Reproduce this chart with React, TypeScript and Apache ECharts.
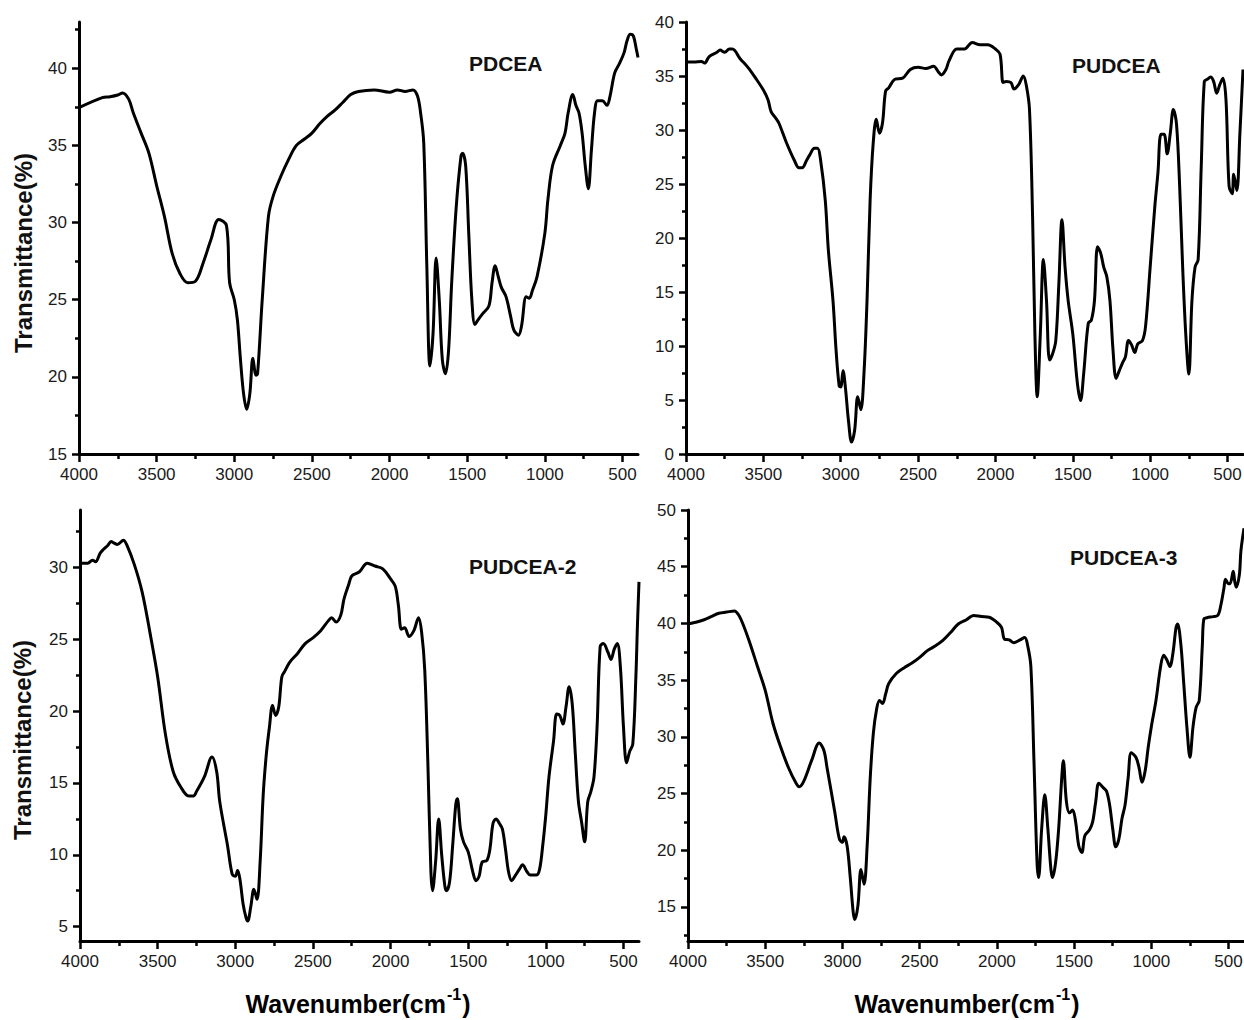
import React, { useEffect, useRef } from "react";
import * as echarts from "echarts";

// ---------- data (wavenumber cm-1, transmittance %) ----------
const pdceaWn = [4000,3850,3800,3750,3720,3680,3650,3600,3550,3500,3450,3400,3350,3300,3250,3200,3150,3100,3050,3030,3000,2980,2960,2940,2920,2900,2880,2860,2850,2820,2780,2750,2700,2650,2600,2550,2500,2450,2400,2350,2300,2250,2200,2100,2000,1950,1900,1850,1820,1800,1780,1760,1740,1720,1700,1680,1660,1640,1620,1600,1570,1540,1530,1510,1490,1470,1450,1430,1400,1360,1340,1320,1300,1280,1250,1220,1200,1170,1150,1120,1100,1080,1050,1000,980,950,900,870,850,820,800,780,760,740,720,700,680,660,630,600,580,550,520,490,470,450,430,410,400];
const pdceaT = [37.45,38.1,38.16,38.27,38.4,38,37.1,35.8,34.5,32.4,30.4,28.0,26.7,26.1,26.2,27.4,28.9,30.2,29.8,26.1,25,23.7,21.1,18.9,17.9,18.9,21.2,20.1,20.2,25,30.4,31.7,33.0,34.1,35,35.4,35.8,36.4,36.9,37.3,37.8,38.3,38.5,38.6,38.45,38.6,38.5,38.6,38.2,37.1,35.2,27.2,20.7,22.8,27.7,25,21.1,20.2,21.7,26.1,31.1,34.3,34.5,33.7,29.3,25,23.4,23.7,24.1,24.6,26.1,27.2,26.5,25.8,25.2,23.9,23.05,22.7,23.3,25.2,25.1,25.6,26.5,29.3,31.5,33.7,35,35.8,37.1,38.3,37.6,37.1,35.8,33.7,32.2,34.7,37.1,37.9,37.9,37.6,38.2,39.7,40.3,41,41.8,42.2,42.1,41.2,40.7];

const pudceaWn = [4000,3950,3900,3880,3850,3800,3780,3750,3720,3700,3650,3600,3550,3500,3470,3450,3420,3400,3350,3300,3270,3250,3220,3200,3170,3150,3130,3100,3080,3050,3030,3010,3000,2985,2970,2950,2930,2910,2890,2870,2850,2830,2810,2790,2770,2750,2730,2710,2690,2650,2600,2550,2500,2450,2400,2370,2350,2320,2300,2250,2200,2150,2100,2050,2000,1970,1950,1930,1900,1880,1850,1820,1800,1780,1760,1745,1730,1710,1690,1670,1650,1630,1610,1590,1570,1550,1530,1500,1470,1450,1430,1400,1380,1360,1340,1320,1300,1280,1260,1240,1220,1200,1180,1160,1140,1120,1100,1080,1050,1030,1000,970,950,930,910,890,870,850,830,810,790,770,750,730,710,690,670,650,630,610,590,570,550,530,510,490,470,460,440,420,400];
const pudceaT = [36.3,36.3,36.35,36.2,36.8,37.2,37.4,37.2,37.5,37.5,36.6,35.8,34.8,33.7,32.8,31.7,31.1,30.65,28.8,27.2,26.5,26.5,27.2,27.7,28.3,28.3,27.2,23.5,18.9,14.2,9.6,6.3,6.2,7.7,6.2,3.1,1.1,2.2,5.3,4.1,7.4,14.2,23.5,28.8,31.0,29.7,30.65,33.6,33.9,34.7,34.8,35.6,35.8,35.7,35.9,35.4,35.1,35.6,36.4,37.5,37.5,38.1,37.9,37.9,37.5,37.0,34.4,34.5,34.4,33.8,34.2,35.0,34.1,31.9,22,11.1,5.3,11.1,18.0,14.2,8.7,9.3,10.5,15.8,21.7,17.3,14.2,11.1,6.5,4.95,7.4,12.1,12.4,14.2,19.2,18.6,17.3,16.4,14.2,9.6,7.0,7.7,8.4,9.0,10.5,10.1,9.4,10.2,10.5,11.8,17.3,22.9,26,29.6,29.6,27.8,29.7,31.9,30.6,25,17.3,11.1,7.4,14.2,17.3,18.0,26.6,34.5,34.7,34.9,34.5,33.4,34.2,34.8,32.8,24.8,24.1,25.9,24.4,29.7,35.6];

const pudcea2Wn = [4000,3950,3920,3900,3870,3850,3820,3800,3780,3760,3720,3700,3650,3600,3550,3500,3450,3400,3350,3300,3270,3250,3200,3150,3120,3100,3050,3020,3000,2985,2970,2950,2930,2920,2900,2880,2860,2840,2820,2800,2780,2760,2740,2720,2700,2680,2650,2600,2550,2500,2450,2400,2380,2350,2320,2300,2270,2250,2200,2150,2100,2050,2000,1970,1950,1930,1910,1880,1850,1820,1800,1780,1760,1740,1730,1710,1690,1670,1650,1640,1620,1600,1580,1570,1550,1530,1500,1470,1450,1430,1410,1380,1360,1340,1320,1300,1280,1260,1240,1220,1200,1170,1150,1120,1100,1060,1040,1020,1000,980,950,930,910,890,870,850,830,810,790,770,750,730,710,690,670,650,630,600,580,560,540,520,500,480,460,440,420,410,400];
const pudcea2T = [30.3,30.3,30.5,30.4,31.0,31.25,31.55,31.8,31.7,31.6,31.9,31.6,30.2,28.3,25.5,22.4,18.4,15.8,14.7,14.1,14.1,14.4,15.4,16.8,15.8,13.7,10.65,8.65,8.5,8.9,8.3,6.6,5.6,5.4,6.4,7.6,6.9,9.5,14.2,17.0,18.9,20.4,19.7,20.3,22.4,22.8,23.4,24.0,24.7,25.1,25.6,26.3,26.5,26.2,26.7,27.8,28.8,29.4,29.7,30.3,30.1,29.9,29.2,28.7,27.4,25.7,25.8,25.2,25.6,26.5,25.5,22.9,16.5,8.8,7.5,9.5,12.5,9.9,7.8,7.5,8.1,10.65,13.5,13.9,11.8,10.9,10.2,8.8,8.2,8.5,9.5,9.6,10.4,12.2,12.5,12.2,11.8,10.4,8.8,8.2,8.5,9.0,9.3,8.8,8.6,8.6,9.0,10.65,12.8,15.4,17.95,19.8,19.7,19.1,20.3,21.7,20.5,17.0,13.7,12.3,10.9,13.7,14.4,15.4,18.9,24.5,24.7,24.1,23.6,24.3,24.7,23.1,18.9,16.4,17.2,17.7,22.4,26,29.0];

const pudcea3Wn = [4000,3950,3900,3850,3800,3750,3700,3670,3640,3600,3550,3500,3450,3400,3350,3300,3280,3250,3200,3150,3120,3100,3050,3020,3000,2990,2970,2950,2930,2920,2900,2880,2860,2840,2820,2800,2780,2760,2740,2720,2700,2650,2600,2550,2500,2450,2400,2350,2300,2250,2200,2150,2100,2050,2000,1970,1950,1920,1890,1850,1820,1800,1780,1760,1740,1730,1710,1690,1670,1650,1640,1620,1600,1580,1570,1550,1530,1510,1490,1470,1450,1430,1400,1380,1360,1340,1310,1290,1270,1250,1230,1210,1190,1170,1150,1130,1100,1080,1060,1040,1020,1000,970,940,920,900,880,860,840,830,810,790,770,750,730,710,690,670,660,640,600,570,550,530,520,500,490,470,460,450,430,420,400];
const pudcea3T = [39.95,40.1,40.3,40.6,40.9,41.0,41.1,40.7,39.8,38.3,36.2,34.1,31.2,29.1,27.3,25.9,25.6,26.1,27.9,29.45,28.8,27.3,23.4,21.0,20.7,21.2,20.4,17.7,14.5,13.9,15.1,18.3,17.0,20.4,26.4,30.3,32.35,33.2,32.95,33.8,34.7,35.6,36.1,36.5,37.0,37.6,38.0,38.5,39.2,39.95,40.3,40.7,40.6,40.55,40.1,39.65,38.6,38.55,38.3,38.55,38.75,38.0,36.2,27.9,18.9,17.6,21.9,24.9,21.9,18.3,17.6,18.9,21.9,26.4,27.9,24.3,23.3,23.55,22.5,20.4,19.8,21.3,21.8,22.5,24.3,25.9,25.5,25.2,24.0,21.9,20.3,21.0,22.8,24.0,26.4,28.6,28.2,27.3,26.0,27.0,29.1,30.9,33.2,36.2,37.2,36.8,36.2,37.4,39.65,39.95,38.3,34.7,30.9,28.2,30.9,32.6,33.2,38.0,40.4,40.5,40.6,40.7,41.6,43.1,43.9,43.5,43.5,44.6,43.7,43.2,44.3,46.4,48.4];

const panelNames = ["PDCEA", "PUDCEA", "PUDCEA-2", "PUDCEA-3"];
const xMajor = [4000, 3500, 3000, 2500, 2000, 1500, 1000, 500];
const xMinor = [3750, 3250, 2750, 2250, 1750, 1250, 750];
const yRanges = [[15, 43], [0, 40], [4, 34], [12, 50]];
const yMajors = [
  [15, 20, 25, 30, 35, 40],
  [0, 5, 10, 15, 20, 25, 30, 35, 40],
  [5, 10, 15, 20, 25, 30],
  [15, 20, 25, 30, 35, 40, 45, 50],
];
const yMinors = [
  [17.5, 22.5, 27.5, 32.5, 37.5, 42.5],
  [2.5, 7.5, 12.5, 17.5, 22.5, 27.5, 32.5, 37.5],
  [7.5, 12.5, 17.5, 22.5, 27.5, 32.5],
  [12.5, 17.5, 22.5, 27.5, 32.5, 37.5, 42.5, 47.5],
];
const yTitle = "Transmittance(%)";
const xTitle = "Wavenumber";

const FONT = "'Liberation Sans', Arial, sans-serif";

export default function App() {
  const ref = useRef<HTMLDivElement>(null);
  useEffect(() => {
    document.body.style.margin = "0";
    if (!ref.current) return;
    const chart = echarts.init(ref.current, null, { renderer: "svg" });
    const seriesData = [
      [pdceaWn, pdceaT],
      [pudceaWn, pudceaT],
      [pudcea2Wn, pudcea2T],
      [pudcea3Wn, pudcea3T],
    ];
    const grids = [
      { left: 79, top: 22, width: 559, height: 432 },
      { left: 686, top: 22, width: 557, height: 432 },
      { left: 80, top: 510, width: 559, height: 431 },
      { left: 688, top: 510, width: 556, height: 431 },
    ].map((g) => ({ ...g, containLabel: false, outerBoundsMode: "none" }));
    const lineStyle = { color: "#000", width: 3 };
    const tickLine = { color: "#000", width: 2.5 };
    const fmt = (v: number) => String(v);
    const labelStyle = { fontSize: 17, color: "#1a1a1a", fontFamily: FONT, formatter: fmt };
    const xAxes: any[] = [];
    const yAxes: any[] = [];
    const series: any[] = [];
    grids.forEach((g, i) => {
      xAxes.push({
        type: "value", gridIndex: i, min: 400, max: 4000, inverse: true, position: "bottom",
        axisLine: { show: true, onZero: false, lineStyle },
        axisTick: { show: true, length: 8, lineStyle: tickLine, customValues: xMajor },
        axisLabel: { ...labelStyle, margin: 12, customValues: xMajor },
        splitLine: { show: false },
      });
      xAxes.push({
        type: "value", gridIndex: i, min: 400, max: 4000, inverse: true, position: "bottom",
        axisLine: { show: false, onZero: false },
        axisTick: { show: true, length: 5, lineStyle: tickLine, customValues: xMinor },
        axisLabel: { show: false },
        splitLine: { show: false },
      });
      const [ymin, ymax] = yRanges[i];
      yAxes.push({
        type: "value", gridIndex: i, min: ymin, max: ymax, position: "left",
        axisLine: { show: true, onZero: false, lineStyle },
        axisTick: { show: true, length: 7, lineStyle: tickLine, customValues: yMajors[i] },
        axisLabel: { ...labelStyle, margin: 12, customValues: yMajors[i] },
        splitLine: { show: false },
      });
      yAxes.push({
        type: "value", gridIndex: i, min: ymin, max: ymax, position: "left",
        axisLine: { show: false, onZero: false },
        axisTick: { show: true, length: 4, lineStyle: tickLine, customValues: yMinors[i] },
        axisLabel: { show: false },
        splitLine: { show: false },
      });
      const [wn, t] = seriesData[i];
      series.push({
        type: "line", name: panelNames[i], xAxisIndex: 2 * i, yAxisIndex: 2 * i,
        data: wn.map((w, k) => [w, t[k]]),
        showSymbol: false, smooth: 0.35,
        lineStyle: { color: "#000", width: 3 },
        clip: true,
      });
    });
    const titlePos = [
      [469, 63], [1072, 65], [469, 566], [1070, 557],
    ];
    const graphic: any[] = [];
    panelNames.forEach((n, i) => {
      graphic.push({
        type: "text", x: titlePos[i][0], y: titlePos[i][1],
        style: { text: n, font: `bold 21px ${FONT}`, fill: "#111", textVerticalAlign: "middle", textAlign: "left" },
      });
    });
    [[23, 253], [22, 740]].forEach(([x, y]) => {
      graphic.push({
        type: "text", x, y, rotation: Math.PI / 2,
        style: { text: yTitle, font: `bold 24px ${FONT}`, fill: "#111", textAlign: "center", textVerticalAlign: "middle" },
      });
    });
    [358, 967].forEach((cx) => {
      graphic.push({
        type: "text", x: cx, y: 1001,
        style: {
          text: `{a|${xTitle}(cm}{s|-1}{a|)}`,
          textAlign: "center", textVerticalAlign: "middle",
          rich: {
            a: { fontSize: 25, fontWeight: "bold", fontFamily: FONT, color: "#111", lineHeight: 30, verticalAlign: "bottom" },
            s: { fontSize: 16, fontWeight: "bold", fontFamily: FONT, color: "#111", lineHeight: 30, verticalAlign: "top", padding: [0, 1, 0, 1] },
          },
        },
      });
    });
    chart.setOption({
      animation: false,
      backgroundColor: "#fff",
      grid: grids,
      xAxis: xAxes,
      yAxis: yAxes,
      series,
      graphic,
    });
    return () => chart.dispose();
  }, []);
  return <div ref={ref} style={{ width: 1244, height: 1020 }} />;
}
